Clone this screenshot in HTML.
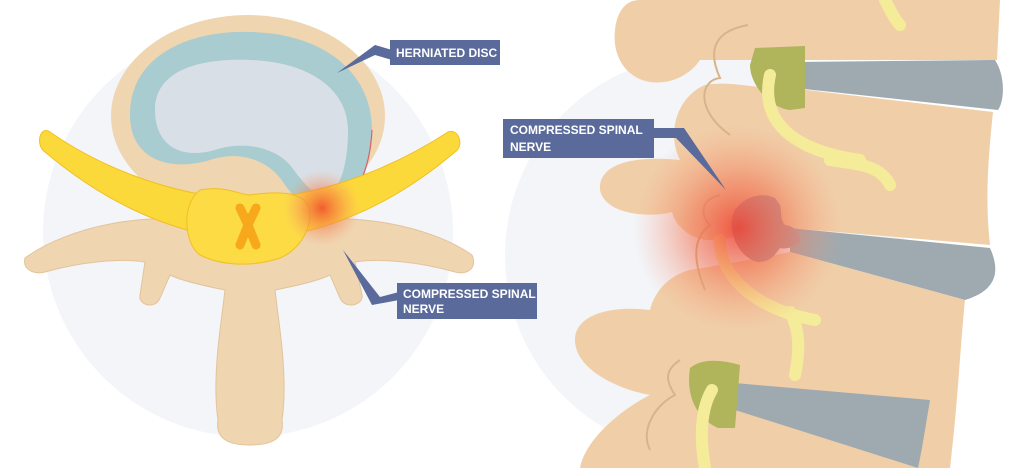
<!DOCTYPE html>
<html><head><meta charset="utf-8"><style>
html,body{margin:0;padding:0;background:#fff;width:1020px;height:468px;overflow:hidden}
svg{display:block}
text{font-family:"Liberation Sans",sans-serif;font-weight:bold;fill:#fff;font-size:12px}
</style></head><body>
<svg width="1020" height="468" viewBox="0 0 1020 468" xmlns="http://www.w3.org/2000/svg">
<defs>
<radialGradient id="g1" cx="0.5" cy="0.5" r="0.5">
<stop offset="0" stop-color="#f0502a" stop-opacity="0.9"/>
<stop offset="0.5" stop-color="#f57a4a" stop-opacity="0.5"/>
<stop offset="1" stop-color="#f8a070" stop-opacity="0"/>
</radialGradient>
<radialGradient id="g2" cx="0.5" cy="0.5" r="0.5">
<stop offset="0" stop-color="#ee4030" stop-opacity="0.85"/>
<stop offset="0.45" stop-color="#f27050" stop-opacity="0.55"/>
<stop offset="1" stop-color="#f6a080" stop-opacity="0"/>
</radialGradient>
</defs>
<circle cx="248" cy="232" r="205" fill="#f3f5f9"/>
<circle cx="705" cy="255" r="200" fill="#f3f5f9"/>

<!-- LEFT: vertebra -->
<path d="M25,258 C70,225 150,212 200,222 L300,222 C350,212 430,225 472,255 C478,270 465,275 455,272 C420,262 380,258 355,262 L362,295 C364,305 345,310 340,298 L330,275 C320,280 300,285 275,290 L280,330 C285,370 285,400 282,420 C285,440 270,445 250,445 C230,445 215,440 218,420 C215,400 215,370 220,330 L225,290 C200,285 180,280 170,275 L160,298 C155,310 138,305 140,295 L145,262 C120,258 80,262 45,272 C35,275 22,270 25,258 Z" fill="#efd5b0" stroke="#e2c49c" stroke-width="1"/>
<ellipse cx="248" cy="116" rx="137" ry="101" fill="#efd5b0"/>
<path d="M130,115 C130,55 190,30 250,32 C320,33 372,70 372,130 C372,170 355,205 330,212 C310,215 300,205 285,185 C270,160 240,150 210,160 C170,172 130,160 130,115 Z" fill="#a8ccd0"/>
<path d="M155,110 C155,70 200,58 250,60 C310,62 348,90 348,130 C348,165 340,192 325,195 C315,197 305,185 290,165 C275,148 245,140 215,150 C180,160 155,145 155,110 Z" fill="#d9dfe6"/>
<path d="M372,130 C370,170 355,205 330,212" fill="none" stroke="#e06060" stroke-width="1.2"/>
<path d="M50,132 C90,160 160,195 248,200 C335,195 405,160 448,132 C458,128 465,145 455,152 C410,190 340,235 248,240 C160,235 90,190 45,152 C35,145 40,125 50,132 Z" fill="#fcd93a" stroke="#f0c020" stroke-width="1"/>
<path d="M200,190 C225,185 240,195 250,195 C270,192 300,190 308,205 C315,225 300,250 280,258 C250,268 220,265 200,255 C185,245 180,205 200,190 Z" fill="#fcdb45" stroke="#f0c020" stroke-width="1"/>
<path d="M240,208 L248,225 L256,208 M240,245 L248,225 L256,245" stroke="#f7a81b" stroke-width="9" stroke-linecap="round" fill="none"/>
<circle cx="322" cy="208" r="38" fill="url(#g1)"/>

<rect x="390" y="40" width="110" height="25" fill="#5a6a9a"/>
<polygon points="337,73 375,45 392,50 392,60 375,55" fill="#5a6a9a"/>
<text x="396" y="57">HERNIATED DISC</text>
<rect x="397" y="283" width="140" height="36" fill="#5a6a9a"/>
<polygon points="343,250 372,305 399,300 399,292 380,297" fill="#5a6a9a"/>
<text x="403" y="298">COMPRESSED SPINAL</text>
<text x="403" y="313">NERVE</text>

<!-- RIGHT: spine -->
<path d="M640,0 L1000,0 L997,60 L700,60 C690,75 670,85 650,82 C625,78 612,55 615,30 C617,12 625,0 640,0 Z" fill="#f0cfa8"/>
<path d="M795,62 L995,60 C1005,75 1005,100 998,110 L795,88 Z" fill="#9eaab0"/>
<path d="M705,85 C730,80 760,90 790,88 L993,112 C988,160 985,200 990,245 L790,228 C760,226 740,240 710,240 C690,240 675,225 672,212 C650,218 605,215 600,190 C598,165 630,155 680,160 C665,130 680,95 705,85 Z" fill="#f0cfa8"/>
<path d="M790,228 L990,248 C1000,270 998,290 965,300 L790,252 Z" fill="#9eaab0"/>
<path d="M690,270 C720,265 760,258 790,252 L965,300 C960,350 958,400 950,468 L580,468 C585,440 620,410 650,395 C620,390 575,370 575,340 C575,315 610,305 650,310 C655,290 670,275 690,270 Z" fill="#f0cfa8"/>
<path d="M735,383 L930,400 C925,430 922,450 918,468 L735,410 Z" fill="#9eaab0"/>
<path d="M748,25 C720,30 705,45 720,78 C700,80 695,110 730,135" fill="none" stroke="#d7b48c" stroke-width="2"/>
<path d="M680,360 C665,370 665,380 675,395 C655,405 640,430 650,450" fill="none" stroke="#d7b48c" stroke-width="2"/>
<path d="M720,195 C700,200 700,215 710,225 C690,240 695,265 705,290" fill="none" stroke="#d7b48c" stroke-width="2"/>
<path d="M755,48 L805,46 L805,108 L790,110 C770,108 750,85 750,65 Z" fill="#b0b45a"/>
<path d="M690,368 C700,360 715,358 740,365 L735,428 L718,428 C700,420 685,400 690,368 Z" fill="#b0b45a"/>
<path d="M770,75 C760,120 790,150 860,160 M830,160 C860,165 880,165 890,185 M885,0 C890,10 895,20 900,25" fill="none" stroke="#f5ec9a" stroke-width="12" stroke-linecap="round"/>
<path d="M720,240 C720,280 760,310 815,320 M790,312 C800,330 800,350 795,375" fill="none" stroke="#f5ec9a" stroke-width="12" stroke-linecap="round"/>
<path d="M712,390 C700,410 700,440 705,468" fill="none" stroke="#f5ec9a" stroke-width="12" stroke-linecap="round"/>
<path d="M775,198 C762,192 745,196 735,210 C725,228 738,258 758,262 C770,262 775,255 780,248 C785,250 800,246 800,240 C800,230 790,225 785,225 C780,220 782,212 780,205 Z" fill="#b09aa2"/>
<circle cx="738" cy="228" r="105" fill="url(#g2)"/>

<rect x="503" y="119" width="151" height="39" fill="#5a6a9a"/>
<polygon points="726,190 684,128 654,128 654,138 676,138" fill="#5a6a9a"/>
<text x="510" y="134">COMPRESSED SPINAL</text>
<text x="510" y="151">NERVE</text>
</svg>
</body></html>
